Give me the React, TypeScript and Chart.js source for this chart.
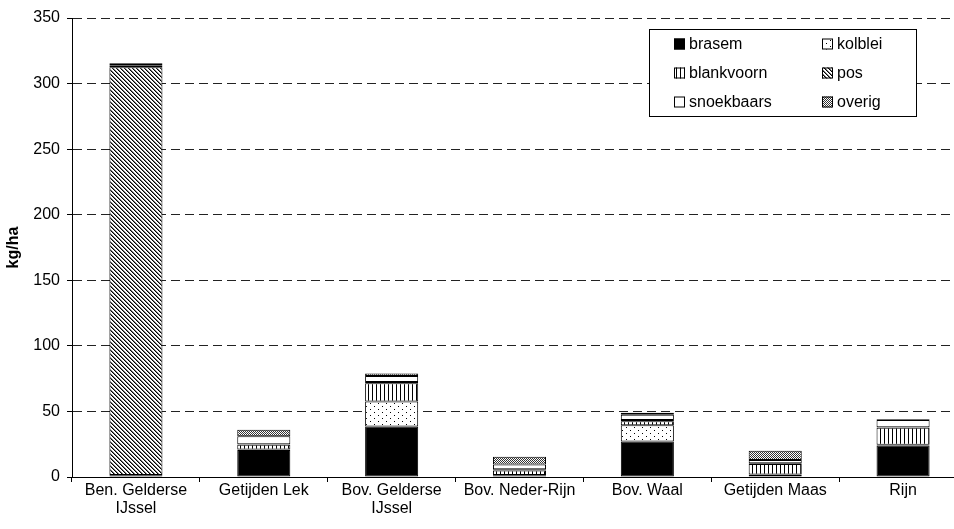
import React, { useEffect, useRef } from "react";
import { Chart, registerables } from "chart.js";

Chart.register(...registerables);

const categories: (string | string[])[] = [
  ["Ben. Gelderse", "IJssel"],
  "Getijden Lek",
  ["Bov. Gelderse", "IJssel"],
  "Bov. Neder-Rijn",
  "Bov. Waal",
  "Getijden Maas",
  "Rijn",
];

const seriesNames = ["brasem", "kolblei", "blankvoorn", "pos", "snoekbaars", "overig"];

const brasem = [1, 20.5, 38.5, 1, 27, 1.5, 24];
const kolblei = [0, 0.5, 19, 0.5, 12.5, 0.5, 0.5];
const blankvoorn = [0.5, 3.5, 14, 3.5, 3, 8, 13];
const pos = [311, 0.5, 1, 1, 1, 0.5, 0.5];
const snoekbaars = [1.5, 6, 4.5, 3.5, 4, 2.5, 5.5];
const overig = [1.5, 5, 2, 6, 1.5, 7, 0.5];

const yTicks = [0, 50, 100, 150, 200, 250, 300, 350];

const FONT = "'Liberation Sans', Arial, sans-serif";

function makePattern(w: number, h: number, draw: (c: CanvasRenderingContext2D) => void) {
  const cv = document.createElement("canvas");
  cv.width = w;
  cv.height = h;
  const c = cv.getContext("2d")!;
  c.fillStyle = "#fff";
  c.fillRect(0, 0, w, h);
  draw(c);
  const ctx = document.createElement("canvas").getContext("2d")!;
  return ctx.createPattern(cv, "repeat")!;
}

function buildFills() {
  const solidBlack = "#000";
  const stipple = makePattern(8, 6, (c) => {
    c.fillStyle = "#000";
    c.fillRect(2, 1, 1, 1);
    c.fillRect(6, 4, 1, 1);
  });
  const vertical = makePattern(4, 1, (c) => {
    c.fillStyle = "#000";
    c.fillRect(0, 0, 1, 1);
  });
  const diag = makePattern(4, 4, (c) => {
    for (let i = 0; i < 4; i++) {
      c.fillStyle = "#000";
      c.fillRect(i, i, 1, 1);
      c.fillStyle = "#777";
      c.fillRect((i + 1) % 4, i, 1, 1);
    }
  });
  const white = "#fff";
  const dense = makePattern(2, 2, (c) => {
    c.fillStyle = "#333";
    c.fillRect(0, 0, 1, 1);
    c.fillRect(1, 1, 1, 1);
  });
  return [solidBlack, stipple, vertical, diag, white, dense];
}

const legendPlugin = {
  id: "boxLegend",
  afterDraw(chart: any) {
    const ctx: CanvasRenderingContext2D = chart.ctx;
    const ds = chart.data.datasets;
    ctx.save();
    ctx.fillStyle = "#fff";
    ctx.fillRect(649.5, 29.5, 267, 87);
    ctx.strokeStyle = "#000";
    ctx.lineWidth = 1;
    ctx.strokeRect(649.5, 29.5, 267, 87);
    const colX = [674, 822];
    const rowY = [44, 73, 102];
    ctx.font = `16px ${FONT}`;
    ctx.textBaseline = "middle";
    ctx.textAlign = "left";
    ds.forEach((d: any, i: number) => {
      const x = colX[i % 2];
      const y = rowY[Math.floor(i / 2)];
      ctx.fillStyle = d.backgroundColor;
      ctx.fillRect(x, y - 5.5, 11, 11);
      ctx.strokeStyle = "#000";
      ctx.lineWidth = 1;
      ctx.strokeRect(x + 0.5, y - 5, 10, 10);
      ctx.fillStyle = "#000";
      ctx.fillText(d.label, x + 15, y + 1);
    });
    ctx.restore();
  },
};

export default function App() {
  const ref = useRef<HTMLCanvasElement>(null);
  useEffect(() => {
    if (!ref.current) return;
    const fills = buildFills();
    const values = [brasem, kolblei, blankvoorn, pos, snoekbaars, overig];
    const chart = new Chart(ref.current, {
      type: "bar",
      data: {
        labels: categories as any,
        datasets: values.map((v, i) => ({
          label: seriesNames[i],
          data: v,
          backgroundColor: fills[i] as any,
          borderColor: "#000",
          borderWidth: 1,
          borderSkipped: false,
          barPercentage: 0.415,
          categoryPercentage: 1,
        })),
      },
      options: {
        animation: false,
        responsive: false,
        layout: { padding: { left: 0, top: 18, right: 33, bottom: 0 } },
        plugins: {
          legend: { display: false },
          tooltip: { enabled: false },
        },
        scales: {
          x: {
            stacked: true,
            offset: true,
            afterFit(scale: any) {
              scale.height = 52;
            },
            grid: {
              display: true,
              drawOnChartArea: false,
              drawTicks: true,
              tickLength: 5,
              color: "#000",
              tickColor: "#000",
              offset: true,
            },
            border: { display: true, color: "#000", width: 1 },
            ticks: {
              color: "#000",
              padding: 0,
              maxRotation: 0,
              autoSkip: false,
              font: { family: FONT, size: 16, lineHeight: 1.1 },
            },
          },
          y: {
            stacked: true,
            min: 0,
            max: 350,
            afterFit(scale: any) {
              scale.width = 72;
            },
            afterBuildTicks(scale: any) {
              scale.ticks = yTicks.map((v) => ({ value: v }));
            },
            grid: {
              color: "#222",
              lineWidth: 1,
              drawTicks: true,
              tickLength: 5,
              tickColor: "#000",
              tickBorderDash: [],
            },
            border: { display: true, color: "#000", width: 1, dash: [9, 5] },
            ticks: {
              color: "#000",
              padding: 7,
              font: { family: FONT, size: 16 },
            },
            title: {
              display: true,
              text: "kg/ha",
              color: "#000",
              padding: { top: 4, bottom: 4 },
              font: { family: FONT, size: 16, weight: "bold" },
            },
          },
        },
      },
      plugins: [legendPlugin],
    });
    return () => chart.destroy();
  }, []);
  return (
    <div
      style={{
        position: "fixed",
        left: 0,
        top: 0,
        width: 954,
        height: 529,
        overflow: "hidden",
        background: "#fff",
      }}
    >
      <canvas ref={ref} width={1000} height={529} style={{ width: 1000, height: 529, display: "block" }} />
    </div>
  );
}
